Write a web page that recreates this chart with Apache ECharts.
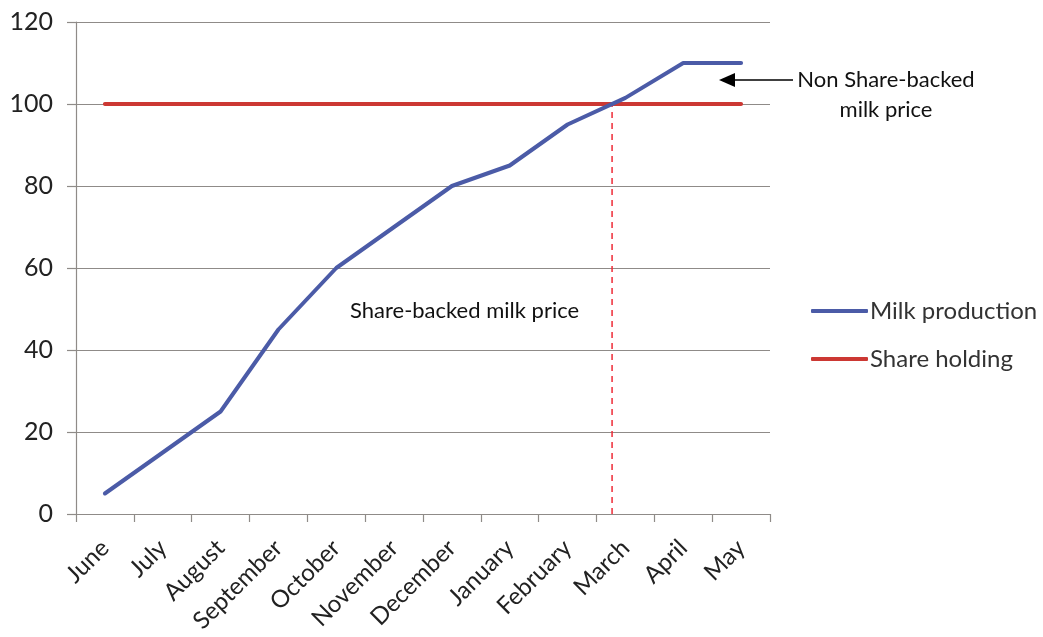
<!DOCTYPE html>
<html>
<head>
<meta charset="utf-8">
<title>Milk production vs share holding</title>
<script src="https://cdn.jsdelivr.net/npm/echarts@6/dist/echarts.min.js"></script>
<style>
  html, body { margin: 0; padding: 0; background: #fff; }
  #chart { width: 1043px; height: 637px; }
</style>
</head>
<body>
<div id="chart"></div>
<script>
// Months of the season
const months = ['June', 'July', 'August', 'September', 'October', 'November',
                'December', 'January', 'February', 'March', 'April', 'May'];
// Milk production index per month
const milkProduction = [5, 15, 25, 45, 60, 70, 80, 85, 95, 101.5, 110, 110];
// Share holding level (flat)
const shareHolding = [100, 100, 100, 100, 100, 100, 100, 100, 100, 100, 100, 100];
// Value axis ticks
const yTicks = [0, 20, 40, 60, 80, 100, 120];

const FONT = 'Lato, "Open Sans", sans-serif';
const AXIS_GREY = '#8f8b88';
const BLUE = '#4b5ba7';
const RED = '#cc3833';

// Where production first reaches the share-holding level (position on a 0..12 scale,
// category i centred at i + 0.5)
function crossingPosition() {
  for (let i = 1; i < milkProduction.length; i++) {
    const a = milkProduction[i - 1] - shareHolding[i - 1];
    const b = milkProduction[i] - shareHolding[i];
    if (a < 0 && b >= 0) {
      return i - 1 + 0.5 + (-a) / (b - a);
    }
  }
  return null;
}
const cross = crossingPosition();
const crossLevel = shareHolding[0];

const chart = echarts.init(document.getElementById('chart'));

chart.setOption({
  animation: false,
  backgroundColor: '#fff',
  textStyle: { fontFamily: FONT },
  grid: { left: 76, right: 273, top: 22, bottom: 123 },
  legend: {
    orient: 'vertical',
    left: 806,
    top: 294,
    itemWidth: 57,
    itemHeight: 4,
    itemGap: 24,
    icon: 'roundRect',
    data: ['Milk production', 'Share holding'],
    textStyle: { fontFamily: FONT, fontSize: 24, color: '#333', padding: [0, 0, 0, -3] }
  },
  xAxis: [
    {
      type: 'category',
      data: months,
      boundaryGap: true,
      axisLine: { lineStyle: { color: AXIS_GREY, width: 1.2 } },
      axisTick: { show: true, length: 8, alignWithLabel: false, lineStyle: { color: AXIS_GREY, width: 1.2 } },
      axisLabel: {
        interval: 0, rotate: 45, margin: 30,
        fontFamily: FONT, fontSize: 24, color: '#222'
      },
      splitLine: { show: false }
    },
    {
      // hidden linear scale over the same span, for the crossing marker
      type: 'value', min: 0, max: 12, show: false
    }
  ],
  yAxis: {
    type: 'value',
    min: yTicks[0],
    max: yTicks[yTicks.length - 1],
    interval: 20,
    axisLine: { show: true, lineStyle: { color: AXIS_GREY, width: 1.2 } },
    axisTick: { show: true, length: 9, lineStyle: { color: AXIS_GREY, width: 1.2 } },
    axisLabel: { margin: 23, fontFamily: FONT, fontSize: 25, color: '#222' },
    splitLine: { show: true, lineStyle: { color: AXIS_GREY, width: 1.2 } }
  },
  series: [
    {
      name: 'Milk production',
      type: 'line',
      data: milkProduction,
      symbol: 'none',
      z: 3,
      lineStyle: { color: BLUE, width: 4, cap: 'round', join: 'round' },
      itemStyle: { color: BLUE }
    },
    {
      name: 'Share holding',
      type: 'line',
      data: shareHolding,
      symbol: 'none',
      z: 2,
      lineStyle: { color: RED, width: 4, cap: 'round' },
      itemStyle: { color: RED }
    },
    {
      name: 'crossing',
      type: 'line',
      xAxisIndex: 1,
      data: [[cross, 0], [cross, crossLevel]],
      symbol: 'none',
      z: 1,
      silent: true,
      lineStyle: { color: '#ee2a36', width: 1.5, type: [6, 5] }
    }
  ],
  graphic: [
    {
      type: 'text',
      x: 350, y: 311,
      style: {
        text: 'Share-backed milk price', font: '22px ' + FONT, fill: '#111',
        verticalAlign: 'middle'
      }
    },
    {
      type: 'text',
      x: 886, y: 80,
      style: {
        text: 'Non Share-backed', font: '22px ' + FONT, fill: '#111',
        align: 'center', verticalAlign: 'middle'
      }
    },
    {
      type: 'text',
      x: 886, y: 110,
      style: {
        text: 'milk price', font: '22px ' + FONT, fill: '#111',
        align: 'center', verticalAlign: 'middle'
      }
    },
    {
      type: 'line',
      shape: { x1: 793, y1: 80, x2: 733, y2: 80 },
      style: { stroke: '#000', lineWidth: 1.5 }
    },
    {
      type: 'polygon',
      shape: { points: [[719, 80], [735, 73], [735, 87]] },
      style: { fill: '#000' }
    }
  ]
});
</script>
</body>
</html>
